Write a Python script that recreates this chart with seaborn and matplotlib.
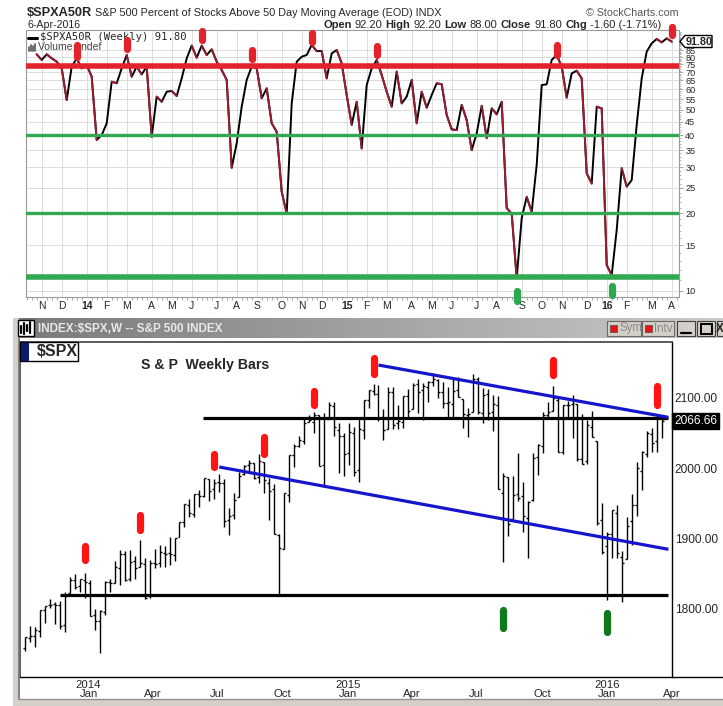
import numpy as np
import pandas as pd
import matplotlib
matplotlib.use("Agg")
import matplotlib.pyplot as plt
import matplotlib.dates as mdates
from matplotlib.patches import Rectangle, Polygon
from matplotlib.lines import Line2D
from matplotlib.colors import LinearSegmentedColormap
from matplotlib.ticker import FixedLocator, NullFormatter
import seaborn as sns

sns.set_theme(style="white")
plt.rcParams["font.family"] = ["Liberation Sans", "DejaVu Sans"]

# ---------------- panel superior: $SPXA50R semanal ----------------
pct_above_50 = [
    82.0, 78.0, 82.0, 79.1, 76.8, 72.4, 54.6, 73.5, 79.1, 72.4,
    74.6, 67.2, 38.3, 40.0, 44.4, 64.3, 63.4, 72.4, 81.5, 67.2,
    73.5, 68.6, 73.5, 39.4, 56.3, 53.8, 58.8, 59.2, 56.6, 66.2,
    79.1, 88.6, 79.6, 88.6, 81.5, 85.7, 76.8, 71.3, 65.3, 29.9,
    37.2, 51.5, 65.3, 73.5, 72.4, 55.5, 60.6, 44.4, 41.2, 24.2,
    19.9, 53.0, 76.8, 80.3, 81.5, 89.1, 84.4, 84.4, 66.2, 82.7,
    85.2, 75.7, 57.1, 43.8, 53.8, 35.5, 62.4, 72.4, 78.0, 68.2,
    58.8, 51.5, 70.3, 53.0, 56.3, 65.3, 44.4, 58.8, 51.0, 57.1,
    63.4, 62.8, 47.8, 42.1, 41.8, 52.3, 45.7, 35.0, 40.6, 51.9,
    38.9, 50.7, 48.1, 53.8, 20.9, 19.9, 11.2, 19.1, 23.1, 20.2,
    30.7, 62.4, 62.8, 78.0, 81.5, 73.5, 55.8, 69.2, 70.9, 66.2,
    28.5, 26.0, 51.5, 50.7, 12.6, 11.5, 17.2, 29.8, 25.3, 26.8,
    43.8, 66.2, 84.0, 90.4, 94.0, 91.2, 94.5, 91.8,
]
pct_last_week = "2016-04-04"
pct_yticks = [10, 15, 20, 25, 30, 35, 40, 45, 50, 55, 60, 65, 70, 75, 80, 85]
pct_red_level = 74.0
pct_green_levels = [40, 20]
pct_floor_level = 11.35
pct_red_idx = [8, 18, 33, 43, 55, 68, 104, 127]
pct_red_lo = [80.1, 86.0, 93.1, 78.7, 91.5, 81.5, 81.5, 97.4]
pct_red_hi = [89.1, 93.1, 100.9, 85.2, 99.1, 88.3, 89.1, 104.6]
pct_green_idx = [96, 115]
pct_green_lo = [9.15, 9.65]
pct_green_hi = [10.0, 10.45]

# ---------------- panel inferior: $SPX semanal OHLC ----------------
spx_first_week = "2013-10-21"
spx_open = [
    1745.0, 1759.4, 1762.0, 1769.0, 1798.8, 1806.3, 1806.6, 1806.2, 1777.0, 1822.9,
    1841.5, 1832.3, 1840.5, 1837.0, 1791.0, 1782.7, 1796.2, 1838.2, 1836.8, 1857.7,
    1877.9, 1842.8, 1867.7, 1859.2, 1863.9, 1818.2, 1865.8, 1865.0, 1879.5, 1880.0,
    1876.7, 1902.0, 1923.9, 1948.0, 1934.8, 1962.9, 1960.8, 1984.2, 1969.9, 1979.8,
    1978.3, 1926.6, 1933.4, 1958.4, 1991.7, 2004.1, 2007.2, 1986.8, 2009.1, 1978.9,
    1970.0, 1905.7, 1885.6, 1962.0, 2018.2, 2032.0, 2038.3, 2065.1, 2065.8, 2074.8,
    2005.0, 2069.3, 2087.6, 2054.4, 2046.1, 2020.8, 2050.4, 1996.7, 2053.5, 2096.5,
    2109.8, 2105.2, 2072.3, 2055.4, 2107.9, 2064.1, 2064.9, 2102.0, 2084.1, 2119.3,
    2110.2, 2115.6, 2121.9, 2125.3, 2108.6, 2092.3, 2091.3, 2110.6, 2098.6, 2075.4,
    2080.0, 2126.6, 2078.2, 2104.5, 2080.0, 2089.7, 1965.2, 1986.7, 1927.3, 1963.1,
    1960.8, 1929.2, 1954.3, 2015.0, 2031.7, 2075.1, 2080.8, 2096.6, 2022.1, 2089.4,
    2090.9, 2090.4, 2013.4, 2010.3, 2057.8, 2038.2, 1926.1, 1888.7, 1906.3, 1936.9,
    1873.3, 1871.4, 1924.4, 1947.1, 1996.1, 2019.3, 2048.6, 2037.9, 2073.2,
]
spx_high = [
    1759.8, 1775.2, 1774.5, 1798.2, 1804.8, 1813.6, 1810.0, 1811.5, 1823.8, 1844.9,
    1849.4, 1843.2, 1850.8, 1840.6, 1799.8, 1798.0, 1840.0, 1842.9, 1867.9, 1883.6,
    1882.4, 1883.9, 1875.9, 1897.3, 1872.5, 1869.6, 1884.9, 1891.3, 1889.1, 1902.2,
    1901.3, 1924.0, 1949.4, 1955.6, 1963.9, 1968.2, 1985.6, 1984.9, 1983.9, 1991.4,
    1984.6, 1942.9, 1964.0, 1994.8, 2005.0, 2011.2, 2007.7, 2019.3, 2009.1, 1985.2,
    1977.8, 1906.0, 1965.3, 2018.2, 2034.3, 2046.2, 2071.5, 2075.8, 2079.5, 2075.8,
    2077.9, 2093.6, 2093.6, 2064.4, 2049.3, 2064.6, 2057.6, 2072.4, 2097.0, 2110.6,
    2119.6, 2117.5, 2083.5, 2114.9, 2114.9, 2088.9, 2102.6, 2111.9, 2120.9, 2125.9,
    2120.9, 2123.9, 2134.7, 2126.2, 2121.9, 2115.0, 2126.6, 2129.9, 2098.6, 2085.6,
    2132.8, 2128.9, 2114.2, 2112.7, 2104.2, 2102.9, 1993.5, 1986.7, 1988.6, 2020.9,
    1979.6, 1953.0, 2020.9, 2034.5, 2079.7, 2094.3, 2116.5, 2099.2, 2089.6, 2095.6,
    2104.3, 2090.4, 2076.7, 2067.6, 2081.6, 2038.2, 1950.3, 1908.8, 1940.2, 1947.2,
    1881.6, 1930.7, 1963.0, 2009.1, 2024.0, 2052.4, 2056.6, 2075.1, 2073.2,
]
spx_low = [
    1740.5, 1752.7, 1746.2, 1760.6, 1780.8, 1800.9, 1779.1, 1772.3, 1767.9, 1822.9,
    1827.7, 1823.7, 1815.3, 1790.3, 1770.5, 1737.9, 1791.8, 1824.6, 1836.8, 1834.4,
    1839.6, 1839.5, 1842.1, 1859.2, 1814.4, 1815.8, 1858.7, 1859.8, 1859.8, 1862.4,
    1868.1, 1902.0, 1915.9, 1929.9, 1930.0, 1944.7, 1958.9, 1952.9, 1955.6, 1965.8,
    1916.4, 1904.8, 1928.3, 1958.4, 1990.5, 1992.4, 1984.4, 1978.5, 1965.1, 1926.0,
    1906.1, 1820.7, 1885.6, 1951.4, 2001.0, 2030.2, 2034.2, 2064.8, 2049.6, 2002.3,
    1972.6, 2069.3, 2046.0, 1992.4, 1988.1, 2004.5, 1989.2, 1980.9, 2041.9, 2085.4,
    2103.8, 2067.3, 2039.7, 2055.4, 2055.9, 2056.1, 2056.5, 2072.4, 2084.1, 2077.8,
    2067.9, 2093.3, 2117.0, 2099.2, 2085.7, 2072.1, 2072.5, 2100.5, 2056.3, 2044.0,
    2080.0, 2077.0, 2063.5, 2067.9, 2052.1, 1970.9, 1867.0, 1903.1, 1927.3, 1953.0,
    1908.8, 1871.9, 1953.0, 1990.7, 2020.9, 2069.3, 2080.8, 2022.7, 2019.4, 2070.3,
    2042.4, 2009.4, 2005.1, 2005.9, 2043.6, 1918.5, 1878.1, 1812.3, 1872.0, 1872.7,
    1810.1, 1871.4, 1891.0, 1931.8, 1969.0, 2015.1, 2022.5, 2022.5, 2043.1,
]
spx_close = [
    1759.8, 1761.6, 1770.6, 1798.2, 1804.8, 1805.8, 1805.1, 1775.3, 1818.3, 1841.4,
    1831.4, 1842.4, 1838.7, 1790.3, 1782.6, 1797.0, 1838.6, 1836.3, 1859.5, 1878.0,
    1841.1, 1866.5, 1857.6, 1865.1, 1815.7, 1864.9, 1863.4, 1881.1, 1878.5, 1877.9,
    1900.5, 1923.6, 1949.4, 1936.2, 1962.9, 1960.9, 1985.4, 1967.6, 1978.2, 1978.3,
    1925.2, 1931.6, 1955.1, 1988.4, 2003.4, 2007.7, 1985.5, 2010.4, 1982.9, 1967.9,
    1906.1, 1886.8, 1964.6, 2018.1, 2031.9, 2039.8, 2063.5, 2067.6, 2075.4, 2002.3,
    2070.7, 2088.8, 2058.2, 2044.8, 2019.4, 2051.8, 1995.0, 2055.5, 2097.0, 2110.3,
    2104.5, 2071.3, 2053.4, 2108.1, 2061.0, 2067.0, 2102.1, 2081.2, 2117.7, 2108.3,
    2116.1, 2122.7, 2126.1, 2107.4, 2092.8, 2094.1, 2110.0, 2101.5, 2076.8, 2076.6,
    2126.6, 2079.7, 2103.8, 2077.6, 2091.5, 1970.9, 1988.9, 1921.2, 1961.1, 1958.1,
    1931.3, 1951.4, 2014.9, 2033.1, 2075.2, 2079.4, 2099.2, 2023.0, 2089.2, 2090.1,
    2091.7, 2012.4, 2005.6, 2061.0, 2043.9, 1922.0, 1880.3, 1906.9, 1940.2, 1880.1,
    1864.8, 1917.8, 1948.1, 1999.99, 2022.2, 2049.6, 2035.9, 2072.8, 2066.66,
]
spx_yticks = [1800, 1900, 2000, 2100]
spx_red_weeks = ["2014-01-13", "2014-03-31", "2014-07-14", "2014-09-22",
                 "2014-12-01", "2015-02-23", "2015-11-02", "2016-03-28"]
spx_red_lo = [1869, 1912, 2002, 2020, 2090, 2134, 2132, 2089]
spx_red_hi = [1890, 1934, 2020, 2044, 2110, 2156, 2154, 2116]
spx_green_weeks = ["2015-08-24", "2016-01-18"]
spx_green_lo = [1773, 1767]
spx_green_hi = [1799, 1794]
# lineas de tendencia (fecha, precio)
chan_upper = [("2015-03-02", 2146.2), ("2016-04-13", 2072.0)]
chan_lower = [("2014-07-21", 2001.5), ("2016-04-13", 1884.7)]
level_top = [("2014-06-28", 2071.0), ("2016-04-13", 2071.0)]
level_bottom = [("2013-12-09", 1819.4), ("2016-04-13", 1819.4)]

# ---------------- figura ----------------
W, H = 723, 706
fig = plt.figure(figsize=(W / 100, H / 100), dpi=100)
fig.patch.set_facecolor("white")


def box(x0, y0, x1, y1):
    return [x0 / W, 1 - y1 / H, (x1 - x0) / W, (y1 - y0) / H]


def fx(x):
    return x / W


def fy(y):
    return 1 - y / H


def frect(x0, y0, x1, y1, **kw):
    r = Rectangle((fx(x0), fy(y1)), (x1 - x0) / W, (y1 - y0) / H,
                  transform=fig.transFigure, **kw)
    fig.add_artist(r)
    return r


def fline(xs, ys, **kw):
    fig.add_artist(Line2D([fx(x) for x in xs], [fy(y) for y in ys],
                          transform=fig.transFigure, **kw))


# ---- panel superior
ax1 = fig.add_axes(box(26, 30, 679, 297))


def chain(x, y, parts, gap=2.3):
    # textos seguidos, cada uno pegado al anterior
    prev = None
    for s, bold, size in parts:
        w = "bold" if bold else "normal"
        if prev is None:
            prev = fig.text(fx(x), fy(y), s, fontsize=size, fontweight=w, va="center")
        else:
            prev = ax1.annotate(s, xy=(1, 0.5), xycoords=prev, xytext=(gap, 0),
                                textcoords="offset points", fontsize=size, fontweight=w,
                                va="center", annotation_clip=False)


# ---- encabezado StockCharts
chain(27, 12.5, [("$SPXA50R", True, 9.2),
                 ("S&P 500 Percent of Stocks Above 50 Day Moving Average (EOD) INDX", False, 7.8)])
fig.text(fx(678), fy(12.5), "\u00a9 StockCharts.com", fontsize=7.7, color="#555555",
         va="center", ha="right")
fig.text(fx(27), fy(25.5), "6-Apr-2016", fontsize=7.7, va="center")
chain(323, 25.5, [("Open", True, 8), ("92.20", False, 8), ("High", True, 8), ("92.20", False, 8),
                  ("Low", True, 8), ("88.00", False, 8), ("Close", True, 8), ("91.80", False, 8),
                  ("Chg", True, 8), ("-1.60 (-1.71%)", False, 8)])

weeks_top = pd.date_range(end=pct_last_week, periods=len(pct_above_50), freq="W-MON")
df_top = pd.DataFrame({"week": weeks_top, "pct": pct_above_50})
sns.lineplot(data=df_top, x="week", y="pct", color="black", lw=1.4, ax=ax1, zorder=3)
for i in range(len(pct_above_50) - 1):
    if pct_above_50[i + 1] < pct_above_50[i]:
        ax1.plot(weeks_top[i:i + 2], pct_above_50[i:i + 2], color="#9b1c31", lw=1.4, zorder=3)

ax1.set_yscale("log")
ax1.set_ylim(9.48, 101.8)
a_top = mdates.date2num(pd.Timestamp("2014-01-06"))
ax1.set_xlim(a_top + (26 - 86.7) * 1.4, a_top + (679 - 86.7) * 1.4)

ax1.axhline(pct_red_level, color="#e3232b", lw=4.0, zorder=4)
for lv in pct_green_levels:
    ax1.axhline(lv, color="#33a852", lw=2.4, zorder=4)
ax1.axhline(pct_floor_level, color="#33a852", lw=4.0, zorder=4)

for i, lo, hi in zip(pct_red_idx, pct_red_lo, pct_red_hi):
    ax1.plot([weeks_top[i]] * 2, [lo, hi], color="#e3232b", lw=5.2,
             solid_capstyle="round", clip_on=False, zorder=7)
for i, lo, hi in zip(pct_green_idx, pct_green_lo, pct_green_hi):
    ax1.plot([weeks_top[i]] * 2, [lo, hi], color="#2ea84e", lw=5.2,
             solid_capstyle="round", clip_on=False, zorder=7)

top_months = pd.date_range("2013-11-01", "2016-04-30", freq="WOM-1MON")
top_labels = [f"{d.year % 100}" if d.month == 1 else d.strftime("%b")[0] for d in top_months]
ax1.set_xticks(top_months)
ax1.set_xticklabels(top_labels)
for t in ax1.get_xticklabels():
    if t.get_text().isdigit():
        t.set_fontweight("bold")
ax1.xaxis.set_minor_locator(mdates.WeekdayLocator(byweekday=mdates.MO))
ax1.set_yticks(pct_yticks)
ax1.set_yticklabels([str(v) for v in pct_yticks])
ax1.yaxis.set_minor_locator(FixedLocator(list(range(10, 101))))
ax1.yaxis.set_minor_formatter(NullFormatter())
ax1.yaxis.tick_right()
ax1.tick_params(axis="x", which="major", length=0, pad=3, labelsize=7.5)
ax1.tick_params(axis="x", which="minor", bottom=True, length=2, color="#9a9a9a", width=0.6)
ax1.tick_params(axis="y", which="major", right=True, left=False, length=3, pad=1.5,
                labelsize=6.6, color="#9a9a9a", width=0.6)
ax1.tick_params(axis="y", which="minor", right=True, left=False, length=1.5,
                color="#9a9a9a", width=0.5)
ax1.grid(True, which="major", color="#dcdcdc", lw=0.7)
ax1.set_axisbelow(True)
ax1.set_xlabel("")
ax1.set_ylabel("")
for s in ax1.spines.values():
    s.set_color("#9a9a9a")
    s.set_linewidth(0.8)

# leyenda dentro del panel (debajo de los marcadores)
ax1.add_line(Line2D([fx(28), fx(37)], [fy(37.5)] * 2, transform=fig.transFigure,
                    color="black", lw=2.2, zorder=5))
ax1.text(fx(40.5), fy(37.5), "$SPXA50R (Weekly) 91.80", transform=fig.transFigure,
         fontsize=7.6, family="DejaVu Sans Mono", va="center", zorder=5)
for k, hgt in enumerate([4, 6, 5, 7]):
    ax1.add_line(Line2D([fx(29 + 2 * k)] * 2, [fy(51), fy(51 - hgt)], transform=fig.transFigure,
                        color="#555555", lw=1.2, zorder=5))
ax1.text(fx(38.5), fy(47.5), "Volume undef", transform=fig.transFigure,
         fontsize=7.5, color="#444444", va="center", zorder=5)

# etiqueta de ultimo valor
fig.add_artist(Polygon([(fx(680), fy(41.5)), (fx(685), fy(35.5)), (fx(712), fy(35.5)),
                        (fx(712), fy(47.5)), (fx(685), fy(47.5))], closed=True,
                       transform=fig.transFigure, fc="white", ec="black", lw=1, zorder=6))
fig.text(fx(686), fy(41.8), f"{pct_above_50[-1]:.2f}", fontsize=7.8, fontweight="bold",
         va="center", zorder=7)

# ---- ventana inferior (marco y barra de titulo)
frect(13, 318, 19, 706, fc="#d4d0c8", ec="none")
fline([18.5, 18.5], [338, 699], color="#707070", lw=1.2)
frect(13, 699, 723, 706, fc="#d4d0c8", ec="none")
fline([18.5, 723], [698.5, 698.5], color="#909090", lw=1)

bar_ax = fig.add_axes(box(17, 318, 723, 338))
grad = np.linspace(0, 1, 256).reshape(1, -1)
bar_ax.imshow(grad, aspect="auto", extent=[0, 1, 0, 1],
              cmap=LinearSegmentedColormap.from_list("bar", ["#7a7a7a", "#cacaca"]))
bar_ax.axis("off")
frect(18, 320, 34, 336, fc="white", ec="black", lw=1, zorder=5)
for x, y0, y1 in [(21, 333, 326), (24, 334, 323), (27, 331, 325), (30, 333, 322)]:
    fline([x, x], [y0, y1], color="black", lw=1.6, zorder=6)
fig.text(fx(38), fy(328.5), "INDEX:$SPX,W -- S&P 500 INDEX", fontsize=8.5,
         fontweight="bold", color="#e8e8e8", va="center", zorder=6)
for x0, x1, s in [(607, 641, "Sym"), (642, 674, "Intv")]:
    frect(x0, 321, x1, 336, fc="#d4d0c8", ec="#6a6a6a", lw=0.8, zorder=5)
    frect(x0 + 3, 324.5, x0 + 10, 331.5, fc="#ee1111", ec="#555555", lw=0.6, zorder=6)
    fig.text(fx(x0 + 12), fy(328.5), s, fontsize=8.3, color="#8a8a8a", va="center", zorder=6)
for x0, x1 in [(677, 695), (697, 715), (717, 735)]:
    frect(x0, 321, x1, 336, fc="#d4d0c8", ec="#404040", lw=0.8, zorder=5)
fline([681, 691], [332.5, 332.5], color="black", lw=1.6, zorder=6)
frect(700.5, 323.5, 711.5, 333.5, fc="none", ec="black", lw=1.4, zorder=6)
fig.text(fx(715.5), fy(328.5), "X", fontsize=8.5, fontweight="bold", va="center", zorder=6)

# ---- panel inferior
ax2 = fig.add_axes(box(19.5, 342, 672, 677))
spx_weeks = pd.date_range(spx_first_week, periods=len(spx_close), freq="W-MON")
tick = pd.Timedelta(days=2.8)
ax2.vlines(spx_weeks, spx_low, spx_high, color="black", lw=1.0, zorder=3)
ax2.hlines(spx_open, spx_weeks - tick, spx_weeks, color="black", lw=1.0, zorder=3)
ax2.hlines(spx_close, spx_weeks, spx_weeks + tick, color="black", lw=1.0, zorder=3)

for seg, col in [(level_top, "black"), (level_bottom, "black"),
                 (chan_upper, "#1515cc"), (chan_lower, "#1515cc")]:
    ax2.plot([pd.Timestamp(d) for d, _ in seg], [p for _, p in seg], color=col,
             lw=2.3, zorder=4, solid_capstyle="butt")

for d, lo, hi in zip(spx_red_weeks, spx_red_lo, spx_red_hi):
    ax2.plot([pd.Timestamp(d)] * 2, [lo, hi], color="#ff1414", lw=5.2,
             solid_capstyle="round", zorder=5)
for d, lo, hi in zip(spx_green_weeks, spx_green_lo, spx_green_hi):
    ax2.plot([pd.Timestamp(d)] * 2, [lo, hi], color="#0f7a1c", lw=5.2,
             solid_capstyle="round", zorder=5)

a_bot = mdates.date2num(pd.Timestamp("2016-01-18"))
ax2.set_xlim(a_bot + (19.5 - 610.3) * 1.4, a_bot + (672 - 610.3) * 1.4)
ax2.set_ylim(1703.5, 2178.9)

qtr = pd.date_range("2014-01-01", "2016-04-01", freq="QS")
ax2.set_xticks(qtr + pd.Timedelta(days=17))
ax2.set_xticklabels([f"{d.year}\n{d.strftime('%b')}" if d.month == 1 else f"\n{d.strftime('%b')}"
                     for d in qtr], linespacing=0.85)
ax2.set_yticks(spx_yticks)
ax2.set_yticklabels([f"{v:.2f}" for v in spx_yticks])
ax2.yaxis.tick_right()
ax2.tick_params(axis="x", length=0, pad=2, labelsize=8.2)
ax2.tick_params(axis="y", length=0, pad=2, labelsize=8.6)
for k in ["left", "top"]:
    ax2.spines[k].set_color("#404040")
    ax2.spines[k].set_linewidth(1.2)
for k in ["right", "bottom"]:
    ax2.spines[k].set_color("black")
    ax2.spines[k].set_linewidth(1.0)
fline([672, 723], [677, 677], color="black", lw=1.0)

blend = ax2.get_yaxis_transform()
ax2.text(1.003, spx_close[-1], f"{spx_close[-1]:.2f}", transform=blend, fontsize=8.6,
         color="white", va="center", ha="left", clip_on=False, zorder=6,
         bbox=dict(boxstyle="square,pad=0.18", fc="black", ec="black"))

# titulo dentro del panel
frect(20, 342, 78, 361, fc="white", ec="black", lw=1, zorder=6)
frect(20.5, 342.5, 29, 360.5, fc="#0a1a6e", ec="none", zorder=7)
fig.text(fx(37), fy(352), "$SPX", fontsize=11.5, fontweight="bold", va="center", zorder=8)
fig.text(fx(141), fy(365.5), "S & P  Weekly Bars", fontsize=10.2, fontweight="bold",
         va="center", zorder=8)

fig.savefig("out.png", dpi=100)
